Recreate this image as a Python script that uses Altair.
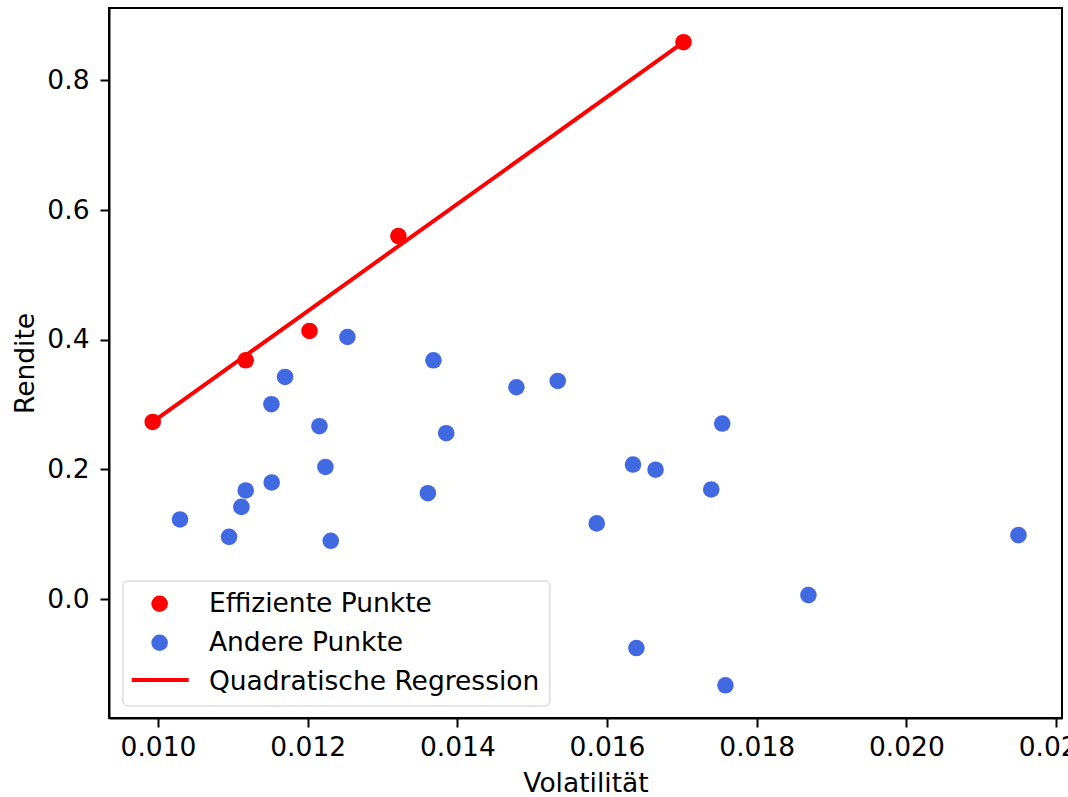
import altair as alt
import pandas as pd

# ---- data ----
eff_x = [0.009929, 0.011172, 0.012024, 0.013212, 0.017022]
eff_y = [0.2733, 0.3684, 0.4136, 0.5600, 0.8590]

oth_x = [0.010294, 0.010949, 0.011114, 0.011172, 0.011515, 0.011519, 0.011697,
         0.012157, 0.012237, 0.012308, 0.012531, 0.013606, 0.013680, 0.013851,
         0.014789, 0.015341, 0.015862, 0.016347, 0.016392, 0.016648, 0.017392,
         0.017539, 0.017582, 0.018691, 0.021497]
oth_y = [0.1229, 0.0960, 0.1423, 0.1676, 0.3006, 0.1799, 0.3427,
         0.2667, 0.2039, 0.0899, 0.4043, 0.1634, 0.3684, 0.2559,
         0.3268, 0.3365, 0.1168, 0.2076, -0.0755, 0.1996, 0.1691,
         0.2708, -0.1330, 0.0062, 0.0987]

reg_x = eff_x
reg_y = [0.2733, 0.3759, 0.4463, 0.5444, 0.8590]

labels = ["Effiziente Punkte", "Andere Punkte", "Quadratische Regression"]
x_ticks = [0.010, 0.012, 0.014, 0.016, 0.018, 0.020, 0.022]
y_ticks = [0.0, 0.2, 0.4, 0.6, 0.8]

pts = pd.DataFrame({
    "x": eff_x + oth_x,
    "y": eff_y + oth_y,
    "label": [labels[0]] * len(eff_x) + [labels[1]] * len(oth_x),
})
reg = pd.DataFrame({"x": reg_x, "y": reg_y, "label": [labels[2]] * len(reg_x)})

FONT = "DejaVu Sans"
FS = 26.5

# main legend: circles for the two point series, label for the regression line
leg_main = alt.Legend(
    title=None, orient="none", legendX=13.4, legendY=572.5,
    labelFont=FONT, labelFontSize=FS, labelColor="black", labelLimit=1000,
    labelOffset=36, symbolOffset=14, padding=10, rowPadding=12,
    symbolType="circle", symbolSize=275,
    strokeColor="#cccccc", fillColor="white", cornerRadius=5,
)
# second legend: only the line symbol, placed on the third row of the main legend
leg_line = alt.Legend(
    title=None, orient="none", legendX=20.7, legendY=641.5,
    labelExpr="''", labelFontSize=FS, padding=0,
    symbolType="stroke", symbolSize=3249, symbolStrokeWidth=4,
)

fill_scale = alt.Scale(domain=labels, range=["#ff0000", "#4169e1", "transparent"])
stroke_scale = alt.Scale(domain=[labels[2]], range=["#ff0000"])

x_enc = alt.X(
    "x:Q",
    scale=alt.Scale(domain=[0.009345, 0.022079], nice=False, zero=False),
    axis=alt.Axis(values=x_ticks, format=".3f", title="Volatilität",
                  labelPadding=7, titleX=476.5, titleY=73,
                  titleBaseline="alphabetic", titleAlign="center"),
)
y_enc = alt.Y(
    "y:Q",
    scale=alt.Scale(domain=[-0.1834, 0.9118], nice=False, zero=False),
    axis=alt.Axis(values=y_ticks, format=".1f", title="Rendite",
                  labelPadding=11, titleX=-76, titleY=355, titleAngle=270,
                  titleBaseline="alphabetic", titleAlign="center"),
)

points = alt.Chart(pts).mark_point(opacity=1, filled=True, size=275, shape="circle").encode(
    x=x_enc,
    y=y_enc,
    fill=alt.Fill("label:N", scale=fill_scale, legend=leg_main),
)

line = alt.Chart(reg).mark_line(strokeWidth=4).encode(
    x="x:Q",
    y="y:Q",
    stroke=alt.Stroke("label:N", scale=stroke_scale, legend=leg_line),
)

chart = alt.layer(points, line).resolve_scale(
    fill="independent", stroke="independent"
).properties(
    width=953, height=710,
    autosize=alt.AutoSizeParams(type="none"),
    padding={"left": 109, "top": 8, "right": 6, "bottom": 79},
    background="white",
).configure_view(
    stroke="black", strokeWidth=2
).configure_axis(
    grid=False, domainColor="black", domainWidth=2,
    tickColor="black", tickWidth=2, tickSize=9,
    labelFont=FONT, labelFontSize=FS, labelColor="black",
    titleFont=FONT, titleFontSize=FS, titleColor="black", titleFontWeight="normal",
)

chart.save("out.html", embed_options={"renderer": "svg", "actions": False})
